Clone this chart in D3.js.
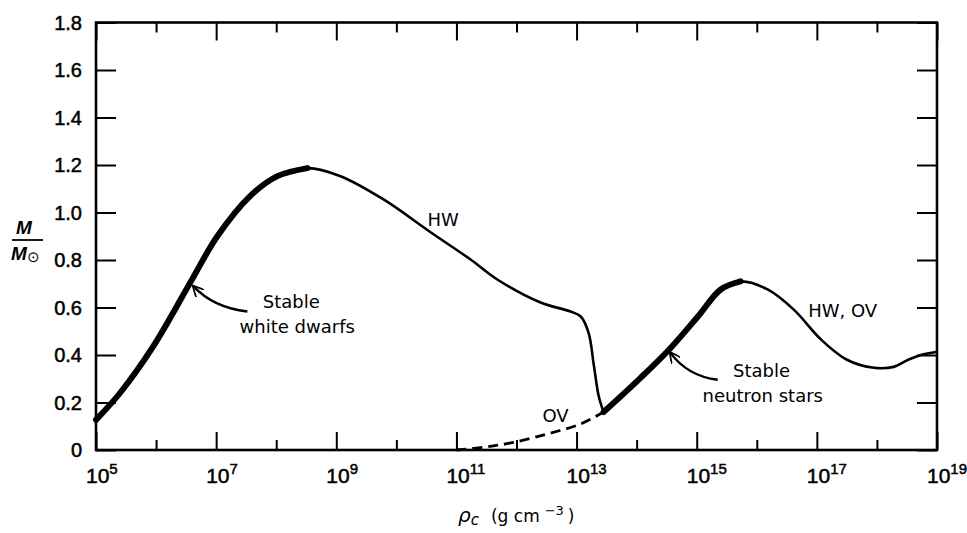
<!DOCTYPE html>
<html>
<head>
<meta charset="utf-8">
<script src="https://cdn.jsdelivr.net/npm/d3@7"></script>
<style>
  body { margin: 0; background: #fff; }
  text { fill: #000; }
</style>
</head>
<body>
<div id="chart"></div>
<script>
// log10 of central density (g cm^-3) and mass in solar units, HW curve down to the cusp
const hwLogRho = [5.0, 5.4, 5.95, 6.57, 7.02, 7.57, 8.02, 8.52, 9.07, 9.78, 10.57, 11.23, 11.68, 12.4, 12.9, 13.07, 13.2, 13.29, 13.37, 13.45];
const hwMass   = [0.127, 0.24, 0.435, 0.705, 0.90, 1.07, 1.153, 1.187, 1.153, 1.056, 0.917, 0.803, 0.718, 0.621, 0.583, 0.562, 0.493, 0.352, 0.225, 0.16];
// past the cusp (HW and OV agree)
const nsLogRho = [13.45, 14.07, 14.53, 15.02, 15.4, 15.73, 16.18, 16.62, 17.07, 17.5, 17.95, 18.28, 18.52, 18.73, 19.0];
const nsMass   = [0.16, 0.305, 0.42, 0.562, 0.676, 0.71, 0.676, 0.59, 0.465, 0.38, 0.346, 0.35, 0.38, 0.40, 0.414];
// OV branch below the cusp (dashed)
const ovLogRho = [11.0, 11.5, 11.95, 12.52, 13.07, 13.45];
const ovMass   = [0.0, 0.013, 0.032, 0.068, 0.11, 0.16];
// stable ranges, drawn thick
const stableWD = [5.0, 8.52];
const stableNS = [13.45, 15.73];
// ticks
const yTicks = [0, 0.2, 0.4, 0.6, 0.8, 1.0, 1.2, 1.4, 1.6, 1.8];
const xMajor = [5, 7, 9, 11, 13, 15, 17, 19];
const xMinor = [6, 8, 10, 12, 14, 16, 18];

const width = 967, height = 533;
const mLeft = 96, mRight = 937, mTop = 22.5, mBottom = 450;
const sans = "'Liberation Sans', Arial, sans-serif";
const wide = "'DejaVu Sans', sans-serif";

const svg = d3.select("#chart")
    .append("svg")
    .attr("width", width)
    .attr("height", height)
    .style("background", "#fff");

const x = d3.scaleLog().domain([1e5, 1e19]).range([mLeft, mRight]);
const y = d3.scaleLinear().domain([0, 1.8]).range([mBottom, mTop]);

const pts = (xs, ys) => xs.map((v, i) => [v, ys[i]]);
const line = d3.line()
    .x(d => x(Math.pow(10, d[0])))
    .y(d => y(d[1]))
    .curve(d3.curveCatmullRom.alpha(0.5));

// ticks, all pointing inward on every side
function ticks(axis, pos, values, size) {
    svg.append("g")
        .attr("transform", pos)
        .call(axis.tickValues(values).tickSize(size).tickSizeOuter(0).tickFormat(""))
        .call(g => g.select(".domain").remove())
        .call(g => g.selectAll("line").attr("stroke", "#000").attr("stroke-width", 2));
}
const majX = xMajor.map(e => Math.pow(10, e)), minX = xMinor.map(e => Math.pow(10, e));
ticks(d3.axisBottom(x), `translate(0,${mBottom})`, majX, -18);
ticks(d3.axisBottom(x), `translate(0,${mBottom})`, minX, -10);
ticks(d3.axisTop(x), `translate(0,${mTop})`, majX, -18);
ticks(d3.axisTop(x), `translate(0,${mTop})`, minX, -10);
ticks(d3.axisLeft(y), `translate(${mLeft},0)`, yTicks, -20);
ticks(d3.axisRight(y), `translate(${mRight},0)`, yTicks, -20);

// frame
svg.append("rect")
    .attr("x", mLeft).attr("y", mTop)
    .attr("width", mRight - mLeft).attr("height", mBottom - mTop)
    .attr("fill", "none").attr("stroke", "#000").attr("stroke-width", 2.6);

// y tick labels
svg.append("g").selectAll("text")
    .data(yTicks)
    .enter().append("text")
    .attr("x", mLeft - 14)
    .attr("y", d => y(d) + 7)
    .attr("text-anchor", "end")
    .style("font-family", sans)
    .style("font-size", "20px")
    .style("stroke", "#000").style("stroke-width", 0.5)
    .text(d => d === 0 ? "0" : d.toFixed(1));

// x tick labels 10^n
const xl = svg.append("g").selectAll("text")
    .data(xMajor)
    .enter().append("text")
    .attr("x", d => x(Math.pow(10, d)) - 10)
    .attr("y", 483)
    .style("font-family", sans)
    .style("font-size", "21px")
    .style("stroke", "#000").style("stroke-width", 0.5);
xl.append("tspan").text("10");
xl.append("tspan").attr("dy", -9).style("font-size", "15px").text(d => d);

// curves
svg.append("path")
    .attr("d", line(pts(ovLogRho, ovMass)))
    .attr("fill", "none").attr("stroke", "#000")
    .attr("stroke-width", 2.8).attr("stroke-dasharray", "10,6");

[pts(hwLogRho, hwMass), pts(nsLogRho, nsMass)].forEach(p => {
    svg.append("path")
        .attr("d", line(p))
        .attr("fill", "none").attr("stroke", "#000")
        .attr("stroke-width", 2.6).attr("stroke-linejoin", "round");
});

// stable parts thick
[[pts(hwLogRho, hwMass), stableWD], [pts(nsLogRho, nsMass), stableNS]].forEach(([p, r]) => {
    svg.append("path")
        .attr("d", line(p.filter(d => d[0] >= r[0] && d[0] <= r[1])))
        .attr("fill", "none").attr("stroke", "#000")
        .attr("stroke-width", 6).attr("stroke-linecap", "round");
});

// labels, placed in data coordinates
const P = (lr, m) => [x(Math.pow(10, lr)), y(m)];
const labels = [
    {t: "HW", at: [10.78, 0.942]},
    {t: "OV", at: [12.65, 0.118]},
    {t: "HW, OV", at: [17.43, 0.558]},
    {t: "Stable", at: [8.25, 0.60]},
    {t: "white dwarfs", at: [8.35, 0.494]},
    {t: "Stable", at: [16.08, 0.308]},
    {t: "neutron stars", at: [16.1, 0.203]}
];
svg.append("g").selectAll("text")
    .data(labels)
    .enter().append("text")
    .attr("x", d => P(...d.at)[0])
    .attr("y", d => P(...d.at)[1])
    .attr("text-anchor", "middle")
    .style("font-family", wide)
    .style("font-size", "18px")
    .text(d => d.t);

// arrows from labels to curve
svg.append("defs").append("marker")
    .attr("id", "head")
    .attr("viewBox", "0 0 10 10")
    .attr("refX", 9).attr("refY", 5)
    .attr("markerWidth", 11).attr("markerHeight", 11)
    .attr("markerUnits", "userSpaceOnUse")
    .attr("orient", "auto")
    .append("path")
    .attr("d", "M0,0 L10,5 L0,10")
    .attr("fill", "none").attr("stroke", "#000").attr("stroke-width", 1.6);

const arrows = [
    {from: [7.52, 0.583], via: [6.95, 0.60], to: [6.62, 0.69]},
    {from: [15.35, 0.296], via: [14.85, 0.31], to: [14.56, 0.41]}
];
arrows.forEach(a => {
    const f = P(...a.from), v = P(...a.via), t = P(...a.to);
    svg.append("path")
        .attr("d", `M${f[0]},${f[1]} Q${v[0]},${v[1]} ${t[0]},${t[1]}`)
        .attr("fill", "none").attr("stroke", "#000").attr("stroke-width", 2.4)
        .attr("marker-end", "url(#head)");
});

// axis titles
const xt = svg.append("text").attr("x", 458).attr("y", 522)
    .style("font-family", wide).style("font-size", "17px");
xt.append("tspan").style("font-style", "italic").style("font-size", "20px").text("ρ");
xt.append("tspan").style("font-style", "italic").attr("dy", 3).style("font-size", "15px").text("c");
xt.append("tspan").attr("dy", -3).attr("dx", 12).text("(g cm");
xt.append("tspan").attr("dy", -7).attr("dx", 5).style("font-size", "13px").text("−3");
xt.append("tspan").attr("dy", 7).attr("dx", 4).text(")");

const yt = svg.append("g").style("font-family", sans).style("font-weight", "bold").style("font-style", "italic");
yt.append("text").attr("x", 24).attr("y", 234).attr("text-anchor", "middle").style("font-size", "19px").text("M");
yt.append("line").attr("x1", 12).attr("x2", 43).attr("y1", 240).attr("y2", 240)
    .attr("stroke", "#000").attr("stroke-width", 1.8);
const yb = yt.append("text").attr("x", 11).attr("y", 260).style("font-size", "19px");
yb.append("tspan").text("M");
yb.append("tspan").style("font-style", "normal").style("font-weight", "normal").style("font-size", "15px").attr("dy", 2).text("⊙");
</script>
</body>
</html>
